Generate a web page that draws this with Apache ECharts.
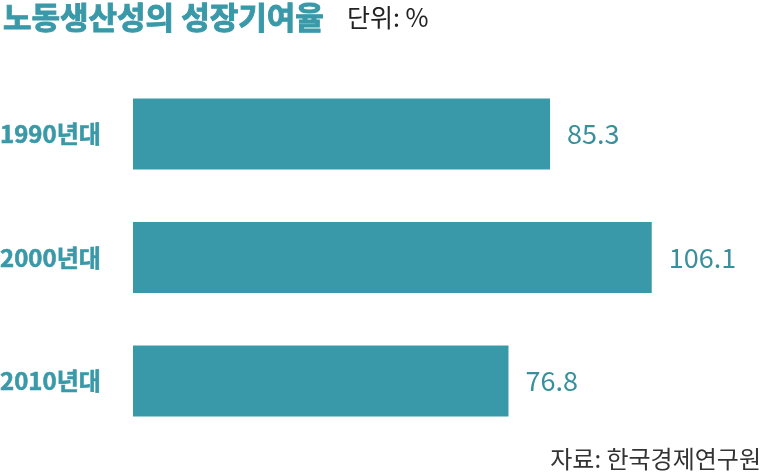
<!DOCTYPE html>
<html><head><meta charset="utf-8">
<script src="https://cdn.jsdelivr.net/npm/echarts@6/dist/echarts.min.js"></script>
<style>html,body{margin:0;padding:0;background:#fff}#c{width:767px;height:474px}</style>
</head><body><div id="c"></div>
<script>
const categories = ['1990년대', '2000년대', '2010년대'];
const values = [85.3, 106.1, 76.8];
const titleText = '노동생산성의 성장기여율';
const unitText = '단위: %';
const sourceText = '자료: 한국경제연구원';
const FONT = '"Noto Sans CJK KR", "Noto Sans", sans-serif';
const chart = echarts.init(document.getElementById('c'));
chart.setOption({
  animation: false,
  textStyle: { fontFamily: FONT },
  title: [
    { text: titleText, left: -2, top: -3, textStyle: { fontSize: 31, fontWeight: 'bold', color: '#3a99a8', textBorderColor: '#3a99a8', textBorderWidth: 1, fontFamily: FONT } },
    { text: unitText, left: 342, top: 0, textStyle: { fontSize: 25, fontWeight: 'normal', color: '#222', fontFamily: FONT } },
    { text: sourceText, right: 1, bottom: -2, textStyle: { fontSize: 24, fontWeight: 'normal', color: '#333', fontFamily: FONT } }
  ],
  grid: { left: 133, right: 47.3, top: 72.25, bottom: 31.25, containLabel: false, outerBoundsMode: 'none' },
  xAxis: { type: 'value', min: 0, max: 120, show: false },
  yAxis: {
    type: 'category', data: categories, inverse: true,
    axisLine: { show: false }, axisTick: { show: false },
    axisLabel: { align: 'left', margin: 133, fontSize: 24, fontWeight: 'bold', color: '#3a99a8', textBorderColor: '#3a99a8', textBorderWidth: 0.6, fontFamily: FONT }
  },
  series: [{
    type: 'bar', data: values, barWidth: 71,
    itemStyle: { color: '#3a99a9' },
    label: { show: true, position: 'right', distance: 17, fontSize: 27, color: '#3a8f9d', fontFamily: FONT }
  }]
});
</script></body></html>
